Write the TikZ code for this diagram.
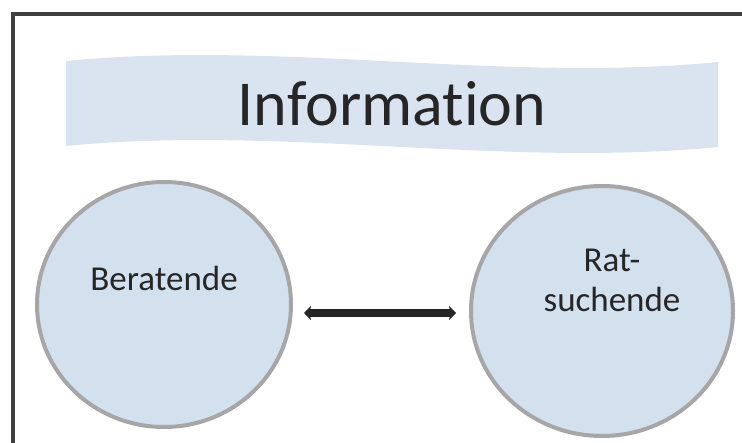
\documentclass[tikz,border=0pt]{standalone}
\usepackage{fontspec}
\setmainfont{Carlito}[Ligatures={NoCommon,NoContextual}]
\usetikzlibrary{shapes.geometric,arrows.meta}
\definecolor{frameGray}{HTML}{404040}
\definecolor{bannerBlue}{HTML}{DAE3F0}
\definecolor{discBlue}{HTML}{D3E0EE}
\definecolor{rimGray}{HTML}{A6A6A6}
\definecolor{inkDark}{HTML}{262626}
\tikzset{
  disc/.style={ellipse, draw=rimGray, line width=4pt, fill=discBlue, inner sep=0pt},
  disctext/.style={text=inkDark, font=\fontsize{35}{40}\selectfont, align=center},
  link/.style={line width=8pt, draw=inkDark, {Stealth[length=7pt,width=14pt,inset=1.5pt]}-{Stealth[length=7pt,width=14pt,inset=1.5pt]}}
}
\begin{document}
\begin{tikzpicture}[x=1pt,y=-1pt]
  \useasboundingbox (0,0) rectangle (742,443);
  % outer frame (open to the right and bottom)
  \draw[frameGray, line width=4pt, line join=miter] (13,445) -- (13,14) -- (745,14);
  % wavy banner
  \fill[bannerBlue] (66,61) .. controls (283,40) and (501,83) .. (718,62)
                    -- (718,147) .. controls (501,168) and (283,125) .. (66,146) -- cycle;
  \node[text=inkDark, font=\fontsize{64}{70}\selectfont] (info) at (392,104) {Information};
  % two parties
  \node[disc, minimum width=254pt, minimum height=245pt] (L) at (164,304.5) {};
  \node[disc, minimum width=262pt, minimum height=250pt] (R) at (602,311) {};
  \node[disctext] (Ltext) at (164,278) {Beratende};
  \node[disctext] (Rtext) at (612,280) {Rat-\\suchende};
  % mutual exchange
  \draw[link] ([shift={(11pt,-8.5pt)}]L.east) -- ([shift={(-13pt,-2pt)}]R.west);
\end{tikzpicture}
\end{document}
